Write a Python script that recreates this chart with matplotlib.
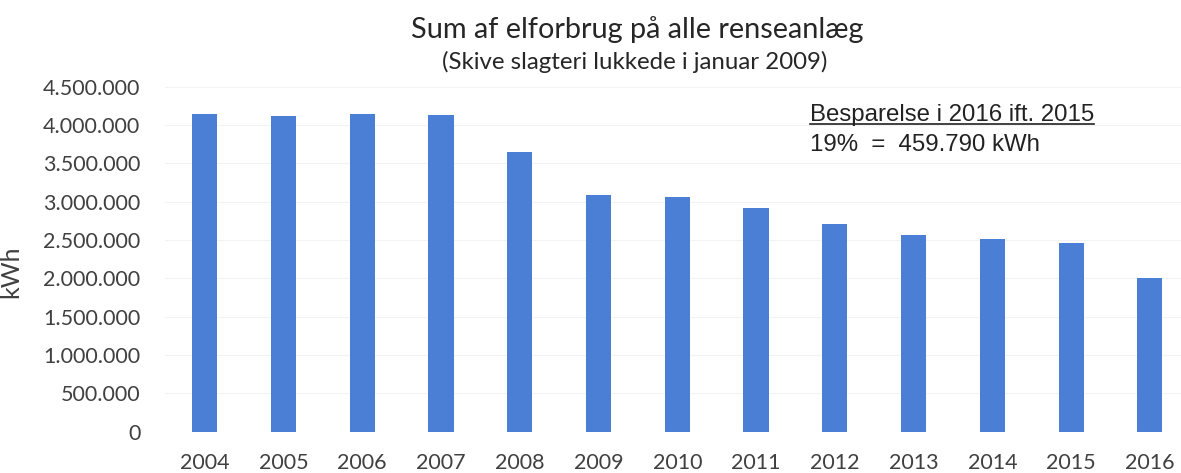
import matplotlib.pyplot as plt
from matplotlib.lines import Line2D
from matplotlib.ticker import FuncFormatter

# data
years = ["2004", "2005", "2006", "2007", "2008", "2009", "2010",
         "2011", "2012", "2013", "2014", "2015", "2016"]
kwh = [4140000, 4118000, 4145000, 4125000, 3648000, 3088000, 3062000,
       2918000, 2709000, 2566000, 2514000, 2462000, 2002000]
yticks = [0, 500000, 1000000, 1500000, 2000000, 2500000, 3000000,
          3500000, 4000000, 4500000]

plt.rcParams['font.family'] = ['Lato', 'DejaVu Sans']
txt = '#404040'

fig = plt.figure(figsize=(11.81, 4.73), dpi=100)
ax = fig.add_axes([0.140, 0.0873, 0.867, 0.7294])

x = range(len(years))
ax.bar(x, kwh, width=0.32, color='#4a7fd5', zorder=3)

ax.set_xlim(-0.5, len(years) - 0.5)
ax.set_ylim(0, 4500000)
ax.set_yticks(yticks)
ax.yaxis.set_major_formatter(FuncFormatter(lambda v, p: f"{int(v):,}".replace(",", ".")))
ax.set_xticks(list(x))
ax.set_xticklabels(years)
ax.tick_params(length=0, labelsize=15.5, colors=txt)
ax.tick_params(axis='y', pad=18)
ax.tick_params(axis='x', pad=15)
ax.grid(axis='y', color='#f3f3f3', linewidth=0.8, zorder=0)
for s in ax.spines.values():
    s.set_visible(False)
ax.set_ylabel("kWh", fontsize=18, color=txt)
ax.yaxis.set_label_coords(-0.140, 0.463)

fig.text(0.54, 0.937, "Sum af elforbrug på alle renseanlæg", ha='center', va='center',
         fontsize=20.8, color='#262626')
fig.text(0.537, 0.868, "(Skive slagteri lukkede i januar 2009)", ha='center', va='center',
         fontsize=17.3, color='#262626')

t1 = fig.text(0.686, 0.757, "Besparelse i 2016 ift. 2015", ha='left', va='center',
              fontsize=17.3, color='#222222', family=['Liberation Sans'])
fig.text(0.686, 0.693, "19%  =  459.790 kWh", ha='left', va='center',
         fontsize=17.3, color='#222222', family=['Liberation Sans'])

# underline the heading of the note
fig.canvas.draw()
bb = t1.get_window_extent().transformed(fig.transFigure.inverted())
fig.add_artist(Line2D([bb.x0, bb.x1], [bb.y0 + 0.004, bb.y0 + 0.004],
                      transform=fig.transFigure, color='#222222', linewidth=1.2))

fig.savefig("out.png", dpi=100)
